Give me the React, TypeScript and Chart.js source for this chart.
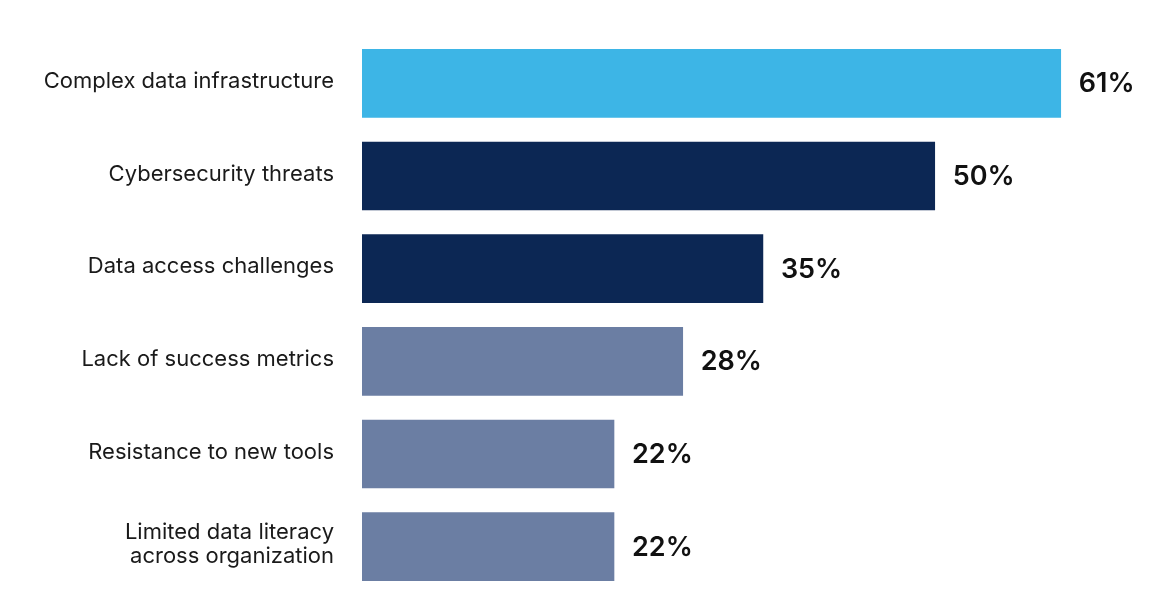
import React, { useEffect, useRef } from "react";
import { Chart, registerables } from "chart.js";

Chart.register(...registerables);

const categories: (string | string[])[] = [
  "Complex data infrastructure",
  "Cybersecurity threats",
  "Data access challenges",
  "Lack of success metrics",
  "Resistance to new tools",
  ["Limited data literacy", "across organization"],
];
const values: number[] = [61, 50, 35, 28, 22, 22];
const barColors: string[] = ["#3db5e6", "#0c2754", "#0c2754", "#6b7ea3", "#6b7ea3", "#6b7ea3"];

const FONT = "Inter, 'Noto Sans', sans-serif";

const labelsPlugin = {
  id: "labelsPlugin",
  afterDatasetsDraw(chart: any) {
    const ctx = chart.ctx;
    const meta = chart.getDatasetMeta(0);
    const yScale = chart.scales.y;
    ctx.save();
    // value labels
    ctx.font = `600 27px ${FONT}`;
    ctx.fillStyle = "#111111";
    ctx.textAlign = "left";
    ctx.textBaseline = "middle";
    meta.data.forEach((bar: any, i: number) => {
      ctx.fillText(`${values[i]}%`, bar.x + 18, bar.y + 1);
    });
    // category labels
    ctx.font = `400 22px ${FONT}`;
    ctx.fillStyle = "#1a1a1a";
    ctx.textAlign = "right";
    const xRight = chart.chartArea.left - 28;
    const lh = 24;
    categories.forEach((c, i) => {
      const lines = Array.isArray(c) ? c : [c];
      const yc = yScale.getPixelForValue(i) - 2;
      const start = yc - ((lines.length - 1) * lh) / 2;
      lines.forEach((ln, j) => ctx.fillText(ln, xRight, start + j * lh));
    });
    ctx.restore();
  },
};

export default function App() {
  const ref = useRef<HTMLCanvasElement | null>(null);
  useEffect(() => {
    if (!ref.current) return;
    const chart = new Chart(ref.current, {
      type: "bar",
      data: {
        labels: categories,
        datasets: [
          {
            data: values,
            backgroundColor: barColors,
            barThickness: 68,
            borderWidth: 0,
          },
        ],
      },
      plugins: [labelsPlugin],
      options: {
        indexAxis: "y",
        animation: false,
        responsive: true,
        maintainAspectRatio: false,
        layout: { padding: { top: 29, right: 24, bottom: 0, left: 354 } },
        plugins: { legend: { display: false }, tooltip: { enabled: false } },
        scales: {
          x: {
            min: 0,
            max: 66,
            display: false,
          },
          y: {
            display: false,
          },
        },
      },
    });
    return () => chart.destroy();
  }, []);
  return (
    <div style={{ width: 1134, height: 585, position: "relative" }}>
      <canvas ref={ref} />
    </div>
  );
}
